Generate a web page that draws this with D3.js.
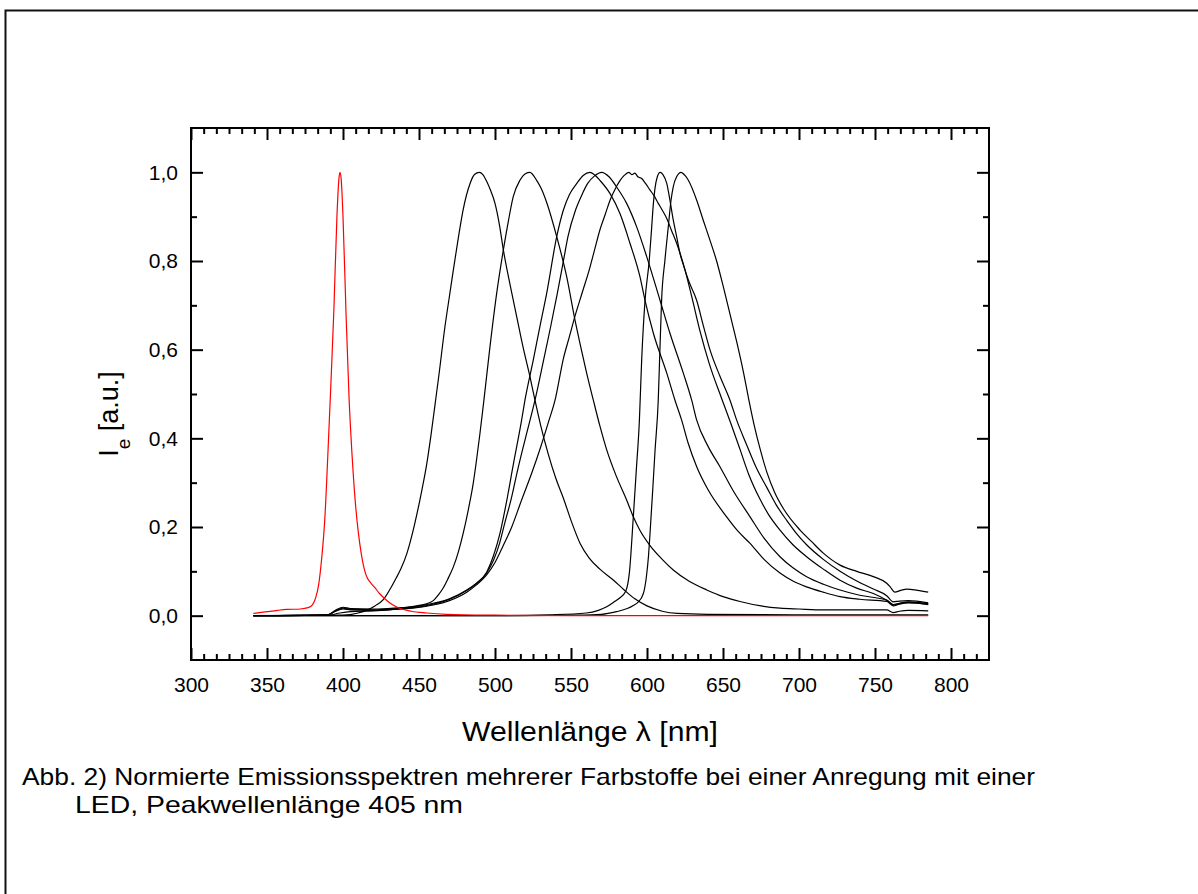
<!DOCTYPE html>
<html>
<head>
<meta charset="utf-8">
<script src="https://cdn.jsdelivr.net/npm/d3@7"></script>
<style>
  html, body { margin: 0; padding: 0; background: #fff; }
  svg { display: block; font-family: "Liberation Sans", Arial, Helvetica, sans-serif; }
</style>
</head>
<body>
<svg id="chart" width="1198" height="894"></svg>
<script>
// ---------------- DATA ----------------
const xTickValues = [300, 350, 400, 450, 500, 550, 600, 650, 700, 750, 800];
const xTickLabels = ["300", "350", "400", "450", "500", "550", "600", "650", "700", "750", "800"];
const yTickValues = [0.0, 0.2, 0.4, 0.6, 0.8, 1.0];
const yTickLabels = ["0,0", "0,2", "0,4", "0,6", "0,8", "1,0"];
const yMinorValues = [0.1, 0.3, 0.5, 0.7, 0.9];

const xTitle = "Wellenlänge λ [nm]";
const captionLine1 = "Abb. 2) Normierte Emissionsspektren mehrerer Farbstoffe bei einer Anregung mit einer";
const captionLine2 = "LED, Peakwellenlänge 405 nm";

// LED excitation spectrum (red)
const ledSpectrum = [[341,0.005],[350,0.009],[357,0.012],[363,0.014],[372,0.015],[377,0.018],[380,0.025],[382,0.04],[384,0.07],[386,0.13],[388,0.216],[390,0.36],[392,0.52],[394,0.69],[396,0.9],[397.3,0.985],[398,1.0],[398.8,0.985],[400,0.9],[402,0.68],[404,0.49],[406,0.36],[408,0.26],[410,0.19],[412,0.14],[414,0.105],[416,0.085],[418,0.075],[421,0.063],[424,0.05],[430,0.031],[435,0.02],[445,0.01],[455,0.006],[468,0.003],[500,0.001],[550,0],[785,0]];

// dye emission spectra (black)
const dye490 = [[341,0],[400,0.001],[410,0.006],[416,0.013],[421,0.022],[426.5,0.036],[431,0.06],[435,0.085],[438,0.105],[442,0.14],[446,0.19],[449,0.235],[452,0.285],[455,0.34],[458,0.41],[460.5,0.475],[463,0.54],[467,0.65],[470,0.72],[472.6,0.78],[476,0.855],[479,0.915],[483.6,0.975],[486.5,0.995],[489.7,1.0],[492,0.995],[494.5,0.98],[497,0.96],[500,0.93],[503,0.88],[505.5,0.825],[510,0.745],[514.3,0.674],[518.5,0.605],[523,0.539],[526.3,0.486],[530,0.43],[535,0.365],[540,0.31],[545,0.265],[550,0.215],[556,0.163],[562,0.13],[569,0.105],[578,0.08],[585,0.058],[592,0.038],[600,0.022],[610,0.01],[620,0.005],[640,0.003],[700,0.002],[785,0.002]];

const dye523 = [[341,0],[390,0.001],[398,0.006],[405,0.009],[420,0.011],[437.5,0.016],[448.5,0.022],[455,0.027],[459.4,0.034],[463,0.048],[466,0.063],[469,0.083],[472.6,0.11],[476,0.145],[479.1,0.186],[482.5,0.24],[485.7,0.299],[488,0.355],[490.1,0.411],[492.5,0.48],[496.7,0.607],[501.1,0.727],[505.5,0.825],[508.8,0.89],[512,0.945],[516.4,0.982],[520,0.997],[523,1.0],[527.4,0.982],[530.5,0.963],[534,0.932],[540.6,0.855],[547.2,0.764],[552.6,0.667],[556.5,0.605],[560.3,0.547],[564.7,0.486],[569,0.428],[573.5,0.374],[580,0.313],[586.6,0.261],[591,0.223],[595.4,0.192],[602,0.158],[610,0.127],[617.3,0.103],[628,0.077],[639.3,0.058],[650,0.043],[661.2,0.032],[675,0.022],[687.5,0.017],[700,0.015],[716,0.013],[740,0.013],[757.7,0.013],[762,0.007],[766,0.01],[772,0.012],[785,0.011]];

const dye563 = [[341,0],[390,0.002],[395,0.01],[400,0.017],[405,0.014],[420,0.013],[437.5,0.016],[446,0.018],[459.4,0.026],[470,0.037],[481.4,0.057],[488,0.073],[494.5,0.098],[499,0.135],[503.3,0.186],[507.2,0.25],[512,0.34],[517.5,0.441],[519.7,0.486],[525.2,0.577],[530,0.66],[534,0.727],[540.6,0.855],[545,0.915],[549,0.95],[553.8,0.975],[558,0.993],[562.5,1.0],[566,0.993],[569,0.982],[575.7,0.952],[582.2,0.907],[588.8,0.84],[595.4,0.764],[598.7,0.711],[604.2,0.637],[613,0.547],[618.4,0.486],[622.8,0.441],[627,0.39],[632.7,0.336],[640,0.285],[652.4,0.223],[660,0.19],[667.8,0.163],[677,0.127],[687.5,0.096],[696,0.078],[705,0.065],[716,0.053],[727,0.043],[740,0.037],[757.7,0.032],[762,0.022],[766,0.026],[772,0.029],[785,0.026]];

const dye570 = [[341,0],[390,0.002],[395,0.012],[400,0.019],[405,0.016],[420,0.015],[437.5,0.018],[446,0.02],[459.4,0.028],[470,0.038],[481.4,0.058],[488,0.074],[494.5,0.096],[499,0.125],[503,0.163],[506.5,0.21],[510.5,0.261],[515,0.33],[520,0.4],[526.3,0.486],[532,0.577],[536.5,0.65],[541,0.727],[545,0.8],[548,0.855],[553,0.915],[557,0.948],[561,0.975],[565.5,0.992],[570.2,1.0],[575,0.99],[580,0.967],[586.6,0.93],[593.2,0.877],[599.8,0.81],[608.6,0.711],[615.1,0.637],[623.9,0.547],[629.4,0.486],[632.7,0.441],[640,0.383],[648,0.336],[657,0.28],[667.8,0.223],[677,0.175],[687.5,0.133],[696,0.108],[705,0.088],[716,0.071],[727,0.058],[740,0.046],[757.7,0.035],[762,0.024],[766,0.027],[772,0.03],[785,0.025]];

const dye588 = [[341,0],[390,0.002],[395,0.01],[400,0.015],[405,0.013],[420,0.012],[437.5,0.015],[446,0.017],[459.4,0.024],[470,0.034],[481.4,0.053],[488,0.07],[494.5,0.092],[500,0.12],[505,0.155],[511,0.2],[517.5,0.261],[524,0.32],[530,0.38],[535,0.435],[539.5,0.486],[545,0.58],[549,0.63],[553,0.68],[557.5,0.73],[562,0.78],[565.5,0.825],[569,0.87],[572.5,0.905],[576,0.94],[579,0.962],[582,0.98],[585,0.993],[588,1.0],[590,0.995],[592,0.998],[594,0.99],[596.5,0.986],[599,0.975],[602,0.96],[604.5,0.948],[607.4,0.93],[610,0.915],[613,0.896],[616,0.87],[619.5,0.84],[625,0.78],[629.4,0.72],[635,0.64],[641,0.568],[649.1,0.49],[655,0.435],[661.2,0.375],[667,0.318],[674.3,0.263],[680,0.228],[687.5,0.193],[696,0.16],[705,0.133],[716,0.105],[727,0.08],[738,0.062],[748.9,0.05],[757.7,0.035],[762,0.025],[766,0.028],[772,0.031],[785,0.027]];

const dye608 = [[341,0],[500,0.0],[538,0.002],[560,0.006],[568,0.012],[573.5,0.02],[578,0.03],[582,0.04],[586,0.055],[588.5,0.1],[591,0.223],[593,0.33],[595,0.441],[596.5,0.577],[598.7,0.711],[601.5,0.802],[603.1,0.877],[604.2,0.93],[605.3,0.965],[606.8,0.99],[608.6,1.0],[610.5,0.995],[613,0.975],[615.1,0.937],[617.3,0.892],[619.5,0.855],[621.7,0.817],[624.5,0.785],[627.2,0.757],[632.7,0.711],[637,0.655],[641.4,0.6],[648,0.54],[654.6,0.486],[659,0.441],[665.6,0.385],[672,0.333],[678.7,0.29],[685,0.25],[691.9,0.215],[698,0.187],[705,0.16],[716,0.127],[727,0.1],[738,0.078],[748.9,0.06],[757.7,0.045],[762,0.031],[766,0.033],[772,0.034],[785,0.029]];

const dye622 = [[341,0],[520,0.0],[550,0.001],[570,0.003],[580,0.009],[587,0.016],[591,0.023],[594,0.03],[597.6,0.05],[599.5,0.085],[601,0.135],[602,0.186],[603.7,0.28],[605.3,0.373],[607.4,0.486],[608.5,0.6],[609.6,0.711],[611.8,0.802],[614,0.877],[615.8,0.937],[617.3,0.968],[619.5,0.99],[622.4,1.0],[625,0.993],[627.2,0.982],[632.7,0.937],[637,0.892],[641.4,0.847],[645.8,0.8],[650.2,0.742],[654.6,0.68],[659,0.618],[663.4,0.55],[667,0.487],[670.5,0.43],[674.5,0.375],[679,0.322],[684,0.278],[690,0.24],[700.7,0.193],[708,0.168],[716,0.141],[727,0.114],[738,0.1],[748.9,0.088],[757.7,0.073],[760,0.065],[763,0.053],[767,0.057],[771,0.06],[778,0.057],[785,0.053]];

const dyeSpectra = [dye490, dye523, dye563, dye570, dye588, dye608, dye622];

// ---------------- CHART ----------------
const svg = d3.select("#chart");
const W = 1198, H = 894;
const plot = { left: 191, right: 989, top: 128, bottom: 660 };

const x = d3.scaleLinear().domain([300, 825]).range([plot.left, plot.right]);
const y = d3.scaleLinear().domain([-0.1, 1.1]).range([plot.bottom, plot.top]);

// outer page border (top and left visible)
svg.append("rect")
  .attr("x", 5.5).attr("y", 10.5)
  .attr("width", W + 20).attr("height", H + 20)
  .attr("fill", "none").attr("stroke", "#111").attr("stroke-width", 2);

// minor tick positions: 5 minor ticks between majors (every 50/6 nm)
const xMinorValues = [];
for (let a = 300; a < 825; a += 50) {
  for (let k = 1; k <= 5; k++) {
    const v = a + k * 50 / 6;
    if (v < 825) xMinorValues.push(v);
  }
}

const fmtX = (d) => xTickLabels[xTickValues.indexOf(d)];
const fmtY = (d) => yTickLabels[yTickValues.indexOf(d)];

function styleAxis(g) {
  g.select(".domain").remove();
  g.selectAll(".tick line").attr("stroke", "#000").attr("stroke-width", 2);
  g.selectAll(".tick text").attr("fill", "#000");
}

// bottom axis
svg.append("g").attr("transform", `translate(0,${plot.bottom})`)
  .call(d3.axisBottom(x).tickValues(xTickValues).tickSize(-12).tickPadding(17).tickFormat(fmtX))
  .call(styleAxis)
  .call(g => g.selectAll(".tick text").attr("font-size", 21).attr("font-family", "Liberation Sans, Arial, sans-serif"));
svg.append("g").attr("transform", `translate(0,${plot.bottom})`)
  .call(d3.axisBottom(x).tickValues(xMinorValues).tickSize(-6).tickFormat(""))
  .call(styleAxis);
// top axis
svg.append("g").attr("transform", `translate(0,${plot.top})`)
  .call(d3.axisTop(x).tickValues(xTickValues).tickSize(-12).tickFormat(""))
  .call(styleAxis);
svg.append("g").attr("transform", `translate(0,${plot.top})`)
  .call(d3.axisTop(x).tickValues(xMinorValues).tickSize(-6).tickFormat(""))
  .call(styleAxis);
// left axis
svg.append("g").attr("transform", `translate(${plot.left},0)`)
  .call(d3.axisLeft(y).tickValues(yTickValues).tickSize(-12).tickPadding(13).tickFormat(fmtY))
  .call(styleAxis)
  .call(g => g.selectAll(".tick text").attr("font-size", 21).attr("font-family", "Liberation Sans, Arial, sans-serif"));
svg.append("g").attr("transform", `translate(${plot.left},0)`)
  .call(d3.axisLeft(y).tickValues(yMinorValues).tickSize(-6).tickFormat(""))
  .call(styleAxis);
// right axis
svg.append("g").attr("transform", `translate(${plot.right},0)`)
  .call(d3.axisRight(y).tickValues(yTickValues).tickSize(-12).tickFormat(""))
  .call(styleAxis);
svg.append("g").attr("transform", `translate(${plot.right},0)`)
  .call(d3.axisRight(y).tickValues(yMinorValues).tickSize(-6).tickFormat(""))
  .call(styleAxis);

// curves
const line = d3.line().x(d => x(d[0])).y(d => y(d[1])).curve(d3.curveMonotoneX);
const curves = svg.append("g");
curves.selectAll("path.dye").data(dyeSpectra).join("path")
  .attr("class", "dye")
  .attr("d", line)
  .attr("fill", "none").attr("stroke", "#000").attr("stroke-width", 1.2)
  .attr("stroke-linejoin", "round");
curves.append("path").datum(ledSpectrum)
  .attr("d", line)
  .attr("fill", "none").attr("stroke", "#ff0000").attr("stroke-width", 1.2)
  .attr("stroke-linejoin", "round");

// frame
svg.append("rect")
  .attr("x", plot.left).attr("y", plot.top)
  .attr("width", plot.right - plot.left).attr("height", plot.bottom - plot.top)
  .attr("fill", "none").attr("stroke", "#000").attr("stroke-width", 2);

// axis titles
svg.append("text")
  .attr("x", 462).attr("y", 741)
  .attr("font-size", 28)
  .attr("textLength", 256).attr("lengthAdjust", "spacingAndGlyphs")
  .text(xTitle);

const yt = svg.append("text")
  .attr("transform", "translate(118,414) rotate(-90)")
  .attr("text-anchor", "middle")
  .attr("font-size", 27);
yt.append("tspan").text("I");
yt.append("tspan").attr("font-size", 19).attr("dy", 12).text("e");
yt.append("tspan").attr("dy", -12).text(" [a.u.]");

// caption
svg.append("text").attr("x", 22).attr("y", 785).attr("font-size", 24)
  .attr("textLength", 1013).attr("lengthAdjust", "spacingAndGlyphs")
  .text(captionLine1);
svg.append("text").attr("x", 75).attr("y", 813).attr("font-size", 24)
  .attr("textLength", 388).attr("lengthAdjust", "spacingAndGlyphs")
  .text(captionLine2);
</script>
</body>
</html>
